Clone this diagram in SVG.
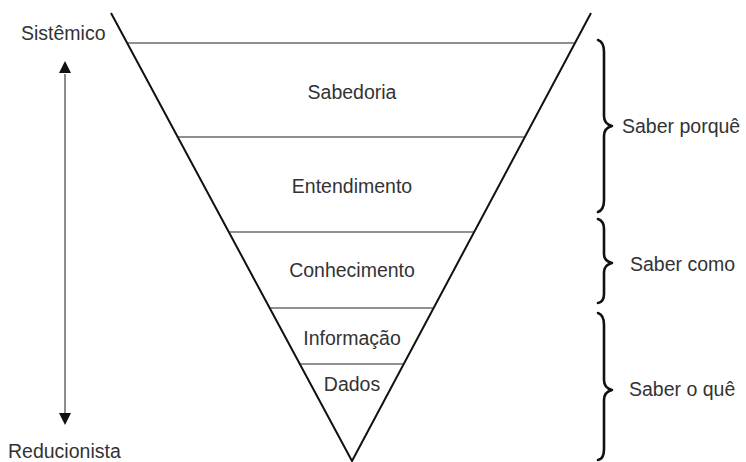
<svg xmlns="http://www.w3.org/2000/svg" width="746" height="462" viewBox="0 0 746 462">
<defs>
<style>
text{font-family:"Liberation Sans",Arial,sans-serif;font-size:19.5px;fill:#333}
.c{text-anchor:middle}
.tri{fill:none;stroke:#111;stroke-width:2}
.lvl{stroke:#222;stroke-width:1.2}
.br{fill:none;stroke:#111;stroke-width:2.6;stroke-linecap:round;stroke-linejoin:round}
</style>
</defs>
<g id="pyramid">
<path class="tri" d="M111,13 L352,461 L591,13"/>
<line class="lvl" x1="127" y1="43" x2="575" y2="43"/>
<line class="lvl" x1="178" y1="137" x2="525" y2="137"/>
<line class="lvl" x1="229" y1="232" x2="474" y2="232"/>
<line class="lvl" x1="270" y1="308" x2="434" y2="308"/>
<line class="lvl" x1="300" y1="364" x2="404" y2="364"/>
</g>
<g id="n-sabedoria"><text class="c" x="352" y="99">Sabedoria</text></g>
<g id="n-entendimento"><text class="c" x="352" y="193">Entendimento</text></g>
<g id="n-conhecimento"><text class="c" x="352" y="277">Conhecimento</text></g>
<g id="n-informacao"><text class="c" x="352" y="345">Informação</text></g>
<g id="n-dados"><text class="c" x="352" y="391">Dados</text></g>
<g id="n-sistemico"><text x="21" y="40">Sistêmico</text></g>
<g id="n-reducionista"><text x="8" y="458">Reducionista</text></g>
<g id="connectors">
<line x1="65" y1="74" x2="65" y2="413" stroke="#666" stroke-width="1.5"/>
<path d="M65,61 L59,73 L71,73 Z" fill="#111"/>
<path d="M65,425 L59,413 L71,413 Z" fill="#111"/>
</g>
<g id="brace-porque">
<path class="br" d="M598,40 Q604,42 604,52 L604,116 Q604,124 612,126 Q604,128 604,136 L604,200 Q604,210 598,212"/>
<text x="622" y="133">Saber porquê</text>
</g>
<g id="brace-como">
<path class="br" d="M598,219 Q604,221 604,229 L604,254 Q604,261 612,263 Q604,265 604,272 L604,294 Q604,302 598,303"/>
<text x="630" y="271">Saber como</text>
</g>
<g id="brace-oque">
<path class="br" d="M598,313 Q604,315 604,325 L604,380 Q604,388 612,390 Q604,392 604,400 L604,449 Q604,459 598,460"/>
<text x="629" y="396">Saber o quê</text>
</g>
</svg>
